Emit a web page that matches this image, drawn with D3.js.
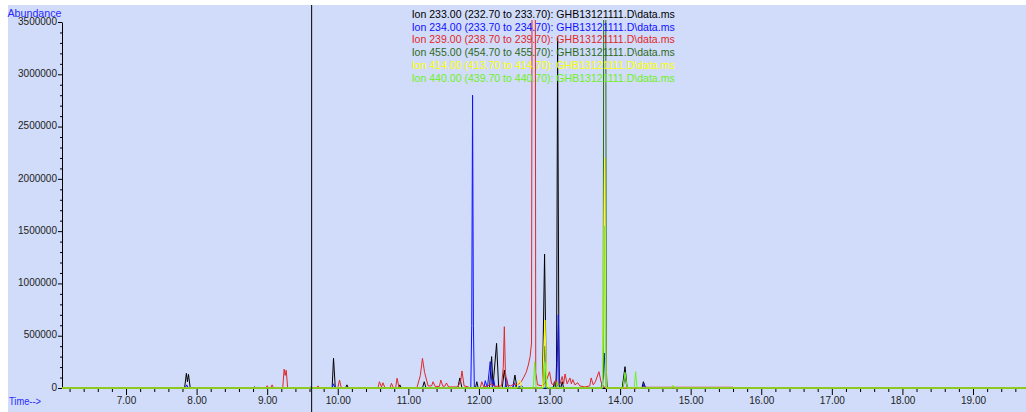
<!DOCTYPE html>
<html><head><meta charset="utf-8">
<script src="https://cdn.jsdelivr.net/npm/d3@7"></script>
<style>
body{margin:0;background:#fff}
svg{display:block}
text{font-family:"Liberation Sans",Arial,sans-serif}
</style>
</head><body>
<svg id="c" width="1026" height="412"></svg>
<script>
// ---------- data (time in minutes, abundance) ----------
const ionLabels = [
  "Ion 233.00 (232.70 to 233.70): GHB13121111.D\\data.ms",
  "Ion 234.00 (233.70 to 234.70): GHB13121111.D\\data.ms",
  "Ion 239.00 (238.70 to 239.70): GHB13121111.D\\data.ms",
  "Ion 455.00 (454.70 to 455.70): GHB13121111.D\\data.ms",
  "Ion 414.00 (413.70 to 414.70): GHB13121111.D\\data.ms",
  "Ion 440.00 (439.70 to 440.70): GHB13121111.D\\data.ms"
];
const ionColors = ["#000000", "#1010ff", "#e02828", "#2f6a1a", "#ffff00", "#70f020"];

const ion233 = [[6.09,0],[7.83,0],[7.855,140000],[7.87,60000],[7.885,130000],[7.91,0],
  [8.85,0],[8.87,8000],[8.89,0],[9.60,0],[9.62,10000],[9.64,0],
  [9.92,0],[9.94,284000],[9.965,0],[10.11,0],[10.13,30000],[10.15,0],
  [10.86,0],[10.88,30000],[10.90,0],[11.20,0],[11.225,60000],[11.25,0],
  [11.70,0],[11.73,96000],[11.76,0],[11.95,0],[11.97,60000],[11.99,0],
  [12.15,0],[12.18,300000],[12.20,20000],[12.25,427000],[12.28,0],
  [12.33,0],[12.36,172000],[12.39,0],[12.48,0],[12.51,124000],[12.54,0],
  [12.90,0],[12.93,1280000],[12.955,0],[13.05,0],[13.07,60000],[13.085,0],
  [13.09,0],[13.10,240000],[13.115,3350000],[13.135,0],[13.16,0],[13.18,60000],[13.20,0],
  [14.03,0],[14.07,204000],[14.10,0],[14.31,0],[14.33,60000],[14.36,0],[19.75,0]];

const ion234 = [[6.09,0],[7.84,0],[7.86,30000],[7.88,0],[8.80,0],[8.82,12000],[8.84,0],
  [9.92,0],[9.94,40000],[9.96,0],
  [11.885,0],[11.898,600000],[11.91,2800000],[11.922,600000],[11.935,0],
  [12.07,0],[12.09,70000],[12.12,0],[12.16,252000],[12.19,0],[12.21,80000],[12.23,0],
  [12.37,0],[12.39,96000],[12.42,0],[12.48,0],[12.50,50000],[12.53,0],[12.60,20000],[12.64,0],
  [13.10,0],[13.125,700000],[13.145,0],[13.75,0],[13.775,335000],[13.80,0],
  [14.32,0],[14.34,40000],[14.36,0],[19.75,0]];

const ion239 = [[6.09,0],[8.98,0],[9.00,22000],[9.02,0],[9.05,0],[9.07,30000],[9.09,0],
  [9.22,0],[9.24,180000],[9.255,120000],[9.27,170000],[9.29,0],
  [9.70,0],[9.72,20000],[9.74,0],[10.00,0],[10.025,76000],[10.05,0],
  [10.57,0],[10.59,60000],[10.62,10000],[10.64,50000],[10.67,0],
  [10.74,0],[10.76,45000],[10.79,0],[10.82,0],[10.84,93000],[10.87,0],
  [11.12,0],[11.17,120000],[11.20,284000],[11.23,150000],[11.28,20000],
  [11.33,20000],[11.35,60000],[11.38,15000],[11.44,15000],[11.46,76000],[11.49,15000],
  [11.52,20000],[11.54,48000],[11.57,10000],[11.70,10000],[11.74,60000],[11.76,163000],
  [11.79,20000],[11.85,10000],[11.88,0],
  [12.02,0],[12.04,60000],[12.07,10000],[12.12,20000],[12.18,40000],[12.22,15000],
  [12.32,20000],[12.345,200000],[12.36,586000],[12.375,150000],[12.40,30000],
  [12.45,20000],[12.50,40000],[12.55,30000],[12.60,60000],[12.63,96000],[12.67,150000],
  [12.70,220000],[12.725,300000],[12.745,430000],[12.755,5000000],[12.797,5000000],
  [12.805,150000],[12.83,30000],
  [12.90,20000],[12.95,60000],[13.00,155000],[13.03,40000],[13.06,30000],[13.09,80000],
  [13.11,20000],[13.15,40000],[13.18,110000],[13.20,40000],[13.22,134000],[13.25,40000],
  [13.29,96000],[13.31,40000],[13.33,80000],[13.36,30000],[13.40,50000],[13.43,20000],
  [13.50,10000],[13.57,20000],[13.59,96000],[13.62,30000],[13.65,60000],[13.70,156000],
  [13.73,60000],[13.76,20000],[13.79,0],
  [14.30,0],[14.32,7000],[15.60,7000],[15.62,0],[19.75,0]];

const ion455 = [[6.09,0],[12.90,0],[12.93,400000],[12.955,0],
  [13.73,0],[13.76,100000],[13.77,4800000],[13.795,4800000],[13.805,150000],[13.82,0],
  [14.04,0],[14.07,100000],[14.10,0],[19.75,0]];

const ion414 = [[6.09,0],[12.54,0],[12.56,60000],[12.58,70000],[12.60,0],
  [12.90,0],[12.935,650000],[12.96,60000],[12.99,0],
  [13.75,0],[13.78,2200000],[13.80,0],[19.75,0]];

const ion440 = [[6.09,0],[12.77,0],[12.79,250000],[12.81,0],[12.92,0],[12.94,250000],[12.96,0],
  [13.09,0],[13.11,60000],[13.13,0],[13.75,0],[13.775,1550000],[13.79,600000],[13.80,0],
  [14.04,0],[14.07,150000],[14.10,0],[14.20,0],[14.22,156000],[14.24,0],
  [14.73,0],[14.75,25000],[14.77,0],[19.75,0]];

const ionSeries = [ion233, ion234, ion239, ion455, ion414, ion440];

const xMajorTicks = [7,8,9,10,11,12,13,14,15,16,17,18,19];
const yMajorTicks = [0,500000,1000000,1500000,2000000,2500000,3000000,3500000];
const cursorTime = 9.63;
const xTitle = "Time-->";
const yTitle = "Abundance";

// ---------- layout ----------
const W = 1026, H = 412;
const svg = d3.select("#c");
const x = d3.scaleLinear().domain([6.093, 19.751]).range([62, 1026]);
const y = d3.scaleLinear().domain([0, 3500000]).range([388, 22]);

svg.append("rect").attr("x", 8).attr("y", 5).attr("width", W - 8).attr("height", H - 5)
  .attr("fill", "#d0dcfa");

// minor ticks
const xMinor = d3.range(31, 99).map(i => i / 5).filter(v => v % 1 !== 0 && v > x.domain()[0] && v < x.domain()[1]);
const yMinor = d3.range(1, 35).map(i => i * 100000).filter(v => v % 500000 !== 0);

const axStyle = g => {
  g.selectAll("path,line").attr("stroke", "#000");
  g.selectAll("text").attr("fill", "#222").style("font-size", "10px")
    .style("font-family", "'Liberation Sans',Arial,sans-serif");
};

svg.append("g").attr("transform", "translate(0,388)")
  .call(d3.axisBottom(x).tickValues(xMinor).tickSize(4).tickSizeOuter(0).tickFormat(""))
  .call(g => g.select(".domain").remove()).call(axStyle);
svg.append("g").attr("transform", "translate(0,388)")
  .call(d3.axisBottom(x).tickValues(xMajorTicks).tickSize(7).tickSizeOuter(0)
    .tickPadding(2).tickFormat(d3.format(".2f")))
  .call(axStyle);

svg.append("g").attr("transform", "translate(62,0)")
  .call(d3.axisLeft(y).tickValues(yMinor).tickSize(2).tickSizeOuter(0).tickFormat(""))
  .call(g => g.select(".domain").remove()).call(axStyle);
svg.append("g").attr("transform", "translate(62,0)")
  .call(d3.axisLeft(y).tickValues(yMajorTicks).tickSize(4).tickSizeOuter(0)
    .tickPadding(1).tickFormat(d3.format("d")))
  .call(axStyle)
  .call(g => g.selectAll("text").attr("dy", "0.22em"));

// clip
svg.append("clipPath").attr("id", "plotclip").append("rect")
  .attr("x", 62).attr("y", 20).attr("width", W - 62).attr("height", 372);

const line = d3.line().x(d => x(d[0])).y(d => y(d[1]));
const gl = svg.append("g").attr("clip-path", "url(#plotclip)");
ionSeries.forEach((s, i) => {
  gl.append("path").datum(s).attr("d", line).attr("fill", "none")
    .attr("stroke", ionColors[i]).attr("stroke-width", 1).attr("stroke-linejoin", "miter");
});

// cursor line
svg.append("line").attr("x1", x(cursorTime)).attr("x2", x(cursorTime))
  .attr("y1", 5).attr("y2", H).attr("stroke", "#000").attr("stroke-width", 1);

// legend
ionLabels.forEach((t, i) => {
  svg.append("text").attr("x", 411.7).attr("y", 18 + i * 12.7)
    .attr("fill", ionColors[i]).style("font-size", "10.5px")
    .attr("textLength", 263).attr("lengthAdjust", "spacingAndGlyphs").text(t);
});

// axis titles
svg.append("text").attr("x", 7.5).attr("y", 16.5).attr("fill", "#2a2aff")
  .style("font-size", "11px").attr("textLength", 54).attr("lengthAdjust", "spacingAndGlyphs").text(yTitle);
svg.append("text").attr("x", 9).attr("y", 405).attr("fill", "#2a2aff")
  .style("font-size", "10px").attr("textLength", 32).attr("lengthAdjust", "spacingAndGlyphs").text(xTitle);
</script>
</body></html>
